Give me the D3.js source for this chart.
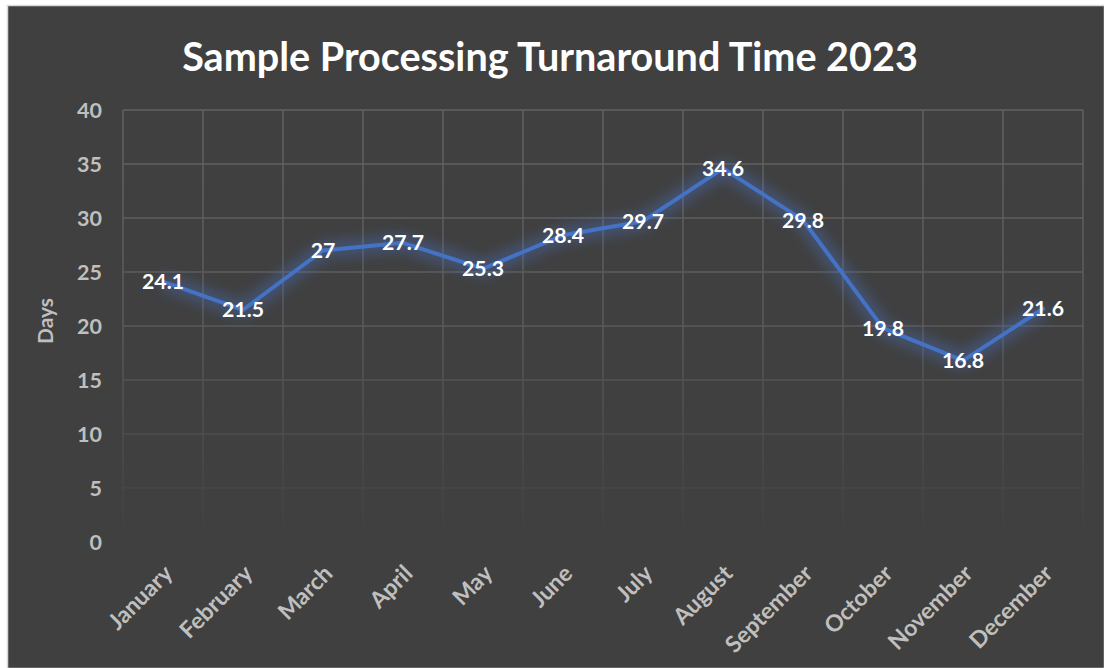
<!DOCTYPE html>
<html><head><meta charset="utf-8">
<script src="https://cdn.jsdelivr.net/npm/d3@7"></script>
<style>html,body{margin:0;padding:0;background:#fff;}svg{display:block;}</style>
</head><body>
<script>
const months = ["January","February","March","April","May","June","July","August","September","October","November","December"];
const days = [24.1,21.5,27,27.7,25.3,28.4,29.7,34.6,29.8,19.8,16.8,21.6];
const yTicks = [0,5,10,15,20,25,30,35,40];
const title = "Sample Processing Turnaround Time 2023";
const yLabel = "Days";

const W=1104,H=668;
const FONT="Lato, 'Open Sans', sans-serif";
const svg=d3.select("body").append("svg").attr("width",W).attr("height",H);
const defs=svg.append("defs");
const grad=defs.append("linearGradient").attr("id","gridFade").attr("gradientUnits","userSpaceOnUse")
  .attr("x1",0).attr("y1",110).attr("x2",0).attr("y2",540);
grad.append("stop").attr("offset",0).attr("stop-color","#626262");
grad.append("stop").attr("offset",0.5).attr("stop-color","#5a5a5a");
grad.append("stop").attr("offset",1).attr("stop-color","#404040");
const glow=defs.append("filter").attr("id","glow").attr("x","-20%").attr("y","-30%").attr("width","140%").attr("height","160%");
glow.append("feGaussianBlur").attr("stdDeviation",7);

svg.append("rect").attr("x",7.5).attr("y",5.5).attr("width",W-7).attr("height",H-5)
  .attr("fill","#404040").attr("stroke","#d9d9d9").attr("stroke-width",1.5);

const x=d3.scaleBand().domain(months).range([123,1083]);
const y=d3.scaleLinear().domain([0,40]).range([542,110]);
const cx=m=>x(m)+x.bandwidth()/2;

function fit(sample, target, base){
  const tmp=svg.append("text").attr("font-family",FONT).attr("font-weight","bold").attr("font-size",base).text(sample);
  const l=tmp.node().getComputedTextLength(); tmp.remove();
  return base*target/l;
}
const fsData=fit("34.6",42,17);
const fsY=fit("40",25,17);
const fsDays=fit("Days",46,15);
const fsX=fit("September",112,15);

const g=svg.append("g");
g.selectAll(".hg").data(yTicks.filter(d=>d>0)).enter().append("line")
  .attr("x1",123).attr("x2",1083).attr("y1",d=>y(d)).attr("y2",d=>y(d))
  .attr("stroke","url(#gridFade)").attr("stroke-width",1.5);
const bounds=months.map(m=>x(m)).concat([x.range()[1]]);
g.selectAll(".vg").data(bounds).enter().append("line")
  .attr("x1",d=>d).attr("x2",d=>d).attr("y1",110).attr("y2",542)
  .attr("stroke","url(#gridFade)").attr("stroke-width",1.5);

svg.selectAll(".yt").data(yTicks).enter().append("text")
  .attr("x",102).attr("y",d=>y(d)).attr("dy","0.36em").attr("text-anchor","end")
  .attr("font-family",FONT).attr("font-weight","bold").attr("font-size",fsY)
  .attr("fill","#bfbfbf").text(d=>d);

svg.append("text").attr("transform","translate(53,321) rotate(-90)").attr("text-anchor","middle")
  .attr("font-family",FONT).attr("font-weight","bold").attr("font-size",fsDays)
  .attr("fill","#bfbfbf").text(yLabel);

svg.selectAll(".xt").data(months).enter().append("text")
  .attr("transform",d=>`translate(${cx(d)+11},${575}) rotate(-45)`)
  .attr("text-anchor","end")
  .attr("font-family",FONT).attr("font-weight","bold").attr("font-size",fsX)
  .attr("fill","#bfbfbf").text(d=>d);

const line=d3.line().x((d,i)=>cx(months[i])).y(d=>y(d));
svg.append("path").datum(days).attr("d",line).attr("fill","none").attr("stroke","#4a78d8")
  .attr("stroke-width",14).attr("stroke-opacity",0.4).attr("stroke-linejoin","round").attr("filter","url(#glow)");
svg.append("path").datum(days).attr("d",line).attr("fill","none").attr("stroke","#4472C4")
  .attr("stroke-width",4).attr("stroke-linejoin","round").attr("stroke-linecap","round");

svg.selectAll(".dl").data(days).enter().append("text")
  .attr("x",(d,i)=>cx(months[i])).attr("y",d=>y(d)).attr("dy","0.36em")
  .attr("text-anchor","middle")
  .attr("font-family",FONT).attr("font-weight","bold").attr("font-size",fsData)
  .attr("fill","#ffffff").text(d=>d);

const t=svg.append("text").attr("x",550).attr("y",57).attr("dy","0.36em").attr("text-anchor","middle")
  .attr("font-family",FONT).attr("font-weight","bold").attr("font-size",34)
  .attr("fill","#ffffff").text(title);
const len=t.node().getComputedTextLength();
t.attr("font-size",34*736/len);
</script>
</body></html>
